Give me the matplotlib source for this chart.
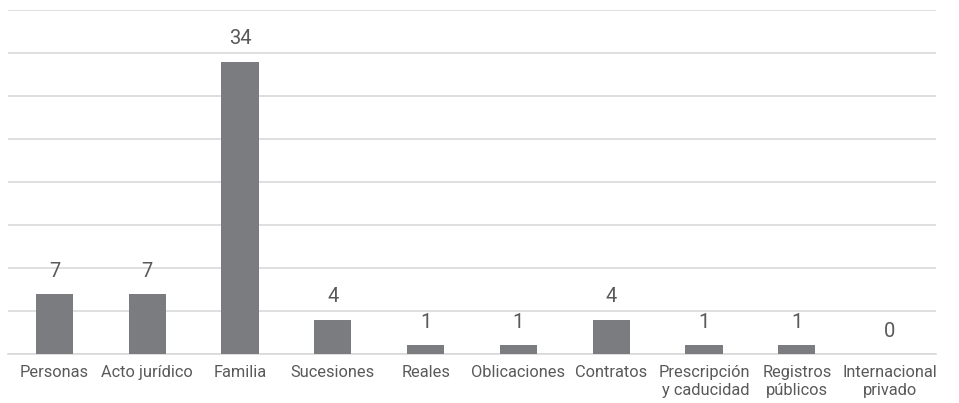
import numpy as np
import matplotlib.pyplot as plt

plt.rcParams['font.family'] = ['Roboto', 'DejaVu Sans']

categorias = ['Personas', 'Acto jurídico', 'Familia', 'Sucesiones', 'Reales',
              'Oblicaciones', 'Contratos', 'Prescripción\ny caducidad',
              'Registros\npúblicos', 'Internacional\nprivado']
valores = [7, 7, 34, 4, 1, 1, 4, 1, 1, 0]

fig = plt.figure(figsize=(9.59, 4.03), dpi=100)
ax = fig.add_axes([8 / 959, 49 / 403, 928 / 959, 344 / 403])

x = np.arange(len(categorias))
bars = ax.bar(x, valores, width=0.4, color='#7b7c80', zorder=3)

for b, v in zip(bars, valores):
    ax.text(b.get_x() + b.get_width() / 2, v + 2.0, str(v), ha='center',
            va='baseline', fontsize=14.5, color='#595959')

ax.set_xlim(-0.5, len(categorias) - 0.5)
ax.set_ylim(0, 40)
ax.set_yticks(range(0, 41, 5))
ax.yaxis.grid(True, color='#d9d9d9', linewidth=1.2, zorder=0)
ax.tick_params(axis='y', length=0, labelleft=False)
ax.tick_params(axis='x', length=0, pad=8)
ax.set_xticks(x)
labels = ax.set_xticklabels(categorias, fontsize=11.8, color='#595959',
                            linespacing=1.25)
labels[7].set_multialignment('right')
for s in ['top', 'right', 'left']:
    ax.spines[s].set_visible(False)
ax.spines['bottom'].set_color('#d9d9d9')
ax.spines['bottom'].set_linewidth(1.2)

fig.savefig('out.png', dpi=100)
